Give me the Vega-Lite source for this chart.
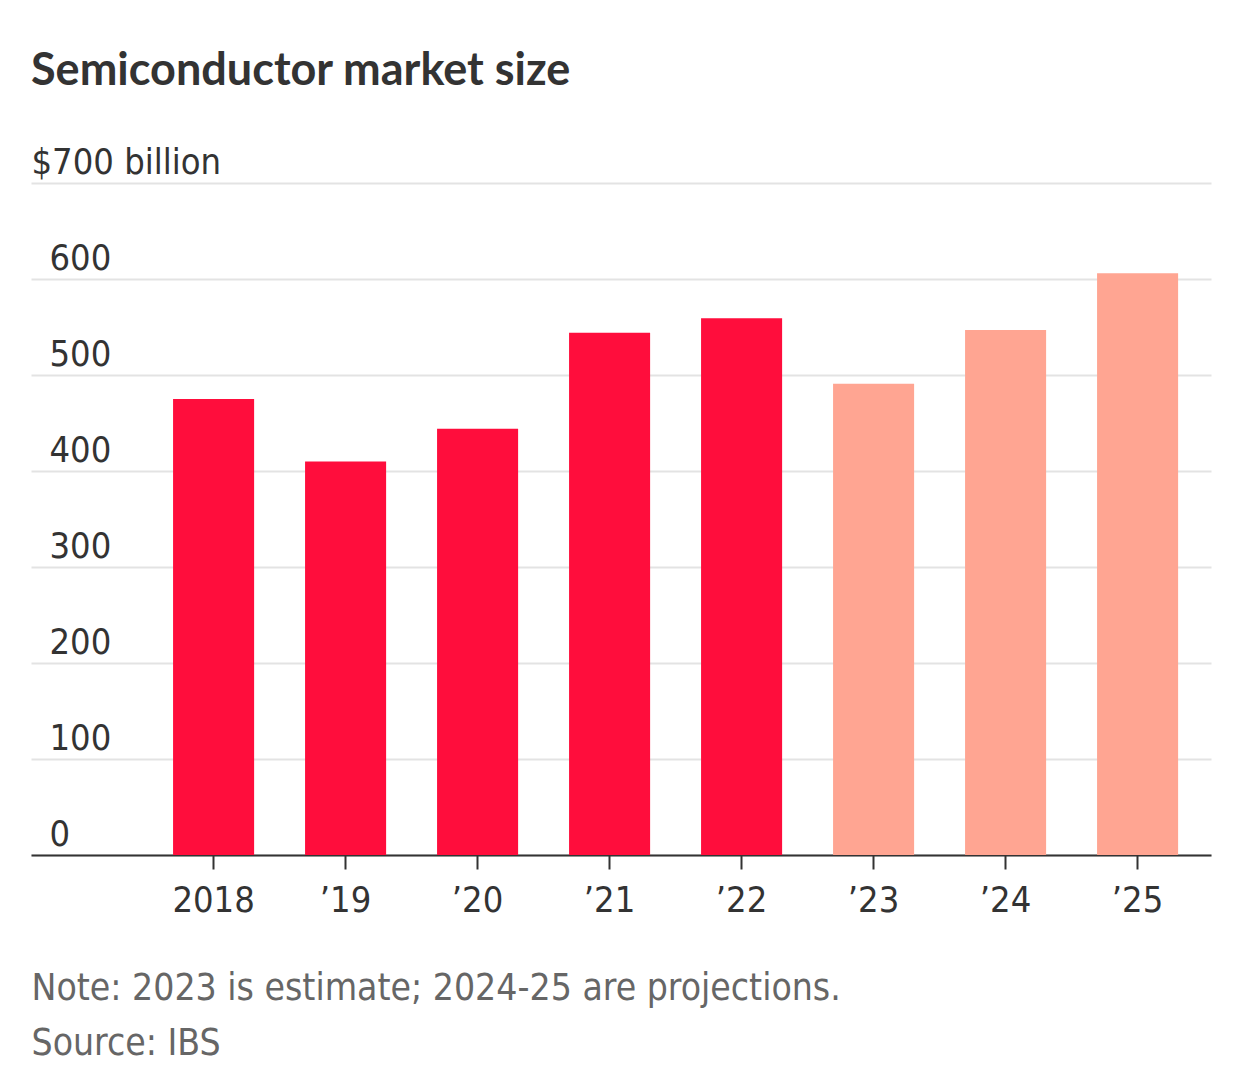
{
  "$schema": "https://vega.github.io/schema/vega-lite/v6.json",
  "width": 1180,
  "height": 672,
  "autosize": "none",
  "padding": {"left": 31, "top": 183, "right": 31, "bottom": 228},
  "background": "white",
  "title": {
    "text": "Semiconductor market size",
    "anchor": "start",
    "frame": "group",
    "font": "Lato",
    "fontWeight": "bold",
    "fontSize": 45,
    "color": "#333333",
    "offset": 50
  },
  "data": {
    "values": [
      {"year": "2018", "value": 475, "status": "Actual"},
      {"year": "’19", "value": 410, "status": "Actual"},
      {"year": "’20", "value": 444, "status": "Actual"},
      {"year": "’21", "value": 544, "status": "Actual"},
      {"year": "’22", "value": 559, "status": "Actual"},
      {"year": "’23", "value": 491, "status": "Estimate/projection"},
      {"year": "’24", "value": 547, "status": "Estimate/projection"},
      {"year": "’25", "value": 606, "status": "Estimate/projection"}
    ]
  },
  "mark": {"type": "bar"},
  "encoding": {
    "x": {
      "field": "year",
      "type": "nominal",
      "sort": null,
      "scale": {"paddingInner": 0.386, "paddingOuter": 0.6627, "align": 0.812},
      "axis": {
        "orient": "bottom",
        "labelAngle": 0,
        "domainColor": "#333333",
        "domainWidth": 2,
        "tickColor": "#333333",
        "tickWidth": 2,
        "tickSize": 14,
        "labelFont": "DejaVu Sans Condensed, sans-serif",
        "labelFontSize": 36,
        "labelColor": "#333333",
        "labelPadding": 14,
        "grid": false,
        "title": ["Note: 2023 is estimate; 2024-25 are projections.", "Source: IBS"],
        "titleFont": "DejaVu Sans Condensed, sans-serif",
        "titleFontSize": 37,
        "titleFontWeight": "normal",
        "titleColor": "#666666",
        "titleAnchor": "start",
        "titleAlign": "left",
        "titleLineHeight": 55,
        "titlePadding": 52,
        "titleLimit": 0
      }
    },
    "y": {
      "field": "value",
      "type": "quantitative",
      "scale": {"domain": [0, 700], "nice": false},
      "axis": {
        "orient": "left",
        "values": [0, 100, 200, 300, 400, 500, 600, 700],
        "domain": false,
        "ticks": false,
        "tickSize": 0,
        "grid": true,
        "gridColor": "#e3e3e3",
        "gridWidth": 2,
        "labelAlign": "left",
        "labelBaseline": "alphabetic",
        "labelOffset": -10,
        "labelPadding": {"condition": {"test": "datum.value == 700", "value": 0}, "value": -18},
        "labelExpr": "datum.value == 700 ? '$700 billion' : datum.label",
        "labelFont": "DejaVu Sans Condensed, sans-serif",
        "labelFontSize": 36,
        "labelColor": "#333333",
        "labelFlush": false,
        "labelOverlap": false,
        "labelBound": false,
        "labelLimit": 0,
        "title": null
      }
    },
    "color": {
      "field": "status",
      "type": "nominal",
      "scale": {"domain": ["Actual", "Estimate/projection"], "range": ["#ff0d3c", "#ffa592"]},
      "legend": null
    }
  },
  "config": {"view": {"stroke": null}}
}
